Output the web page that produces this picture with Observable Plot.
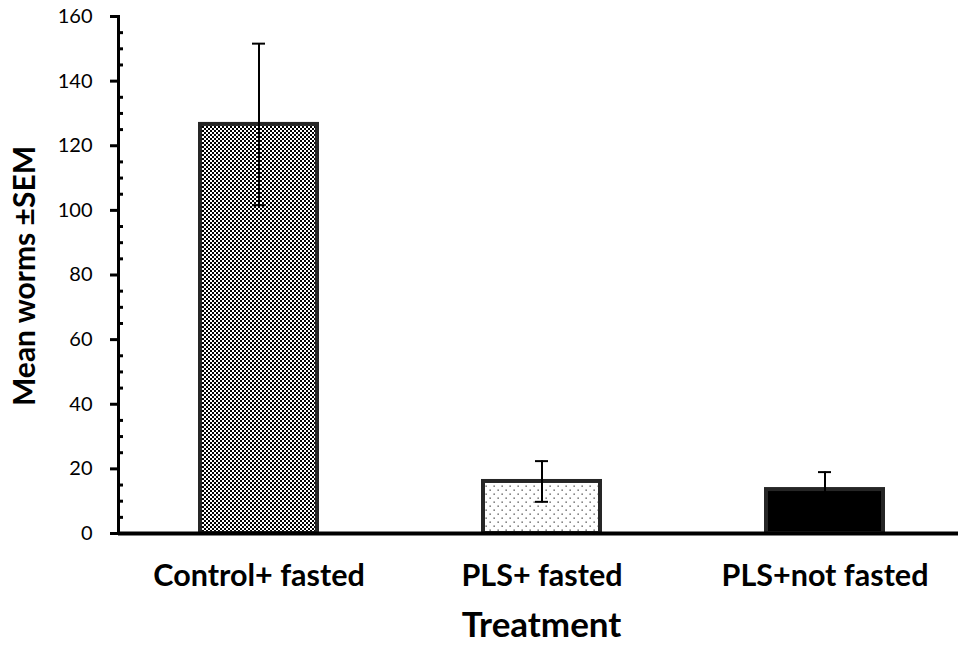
<!DOCTYPE html>
<html>
<head>
<meta charset="utf-8">
<script src="https://cdn.jsdelivr.net/npm/d3@7"></script>
<script src="https://cdn.jsdelivr.net/npm/@observablehq/plot@0.6"></script>
<style>
  html, body { margin: 0; padding: 0; background: #fff; }
  #chart svg { display: block; }
</style>
</head>
<body>
<div id="chart"></div>
<script>
const categories = ["Control+ fasted", "PLS+ fasted", "PLS+not fasted"];
const means = [126.6, 16.1, 13.6];
const sems = [25.0, 6.3, 5.4];
const fills = ["url(#checker)", "url(#dots)", "#000000"];
const majorTicks = [0, 20, 40, 60, 80, 100, 120, 140, 160];
const minorTicks = [5, 10, 15, 25, 30, 35, 45, 50, 55, 65, 70, 75, 85, 90, 95, 105, 110, 115, 125, 130, 135, 145, 150, 155];

const data = categories.map((c, i) => ({cat: c, mean: means[i], sem: sems[i], fill: fills[i]}));
const font = "Lato, 'Open Sans', sans-serif";

const svg = Plot.plot({
  width: 958,
  height: 645,
  marginLeft: 118,
  marginRight: 0,
  marginTop: 16,
  marginBottom: 112,
  style: {fontFamily: font, color: "#000", background: "#fff"},
  x: {domain: categories, range: [118, 964], paddingInner: 0.587, paddingOuter: 0.288},
  y: {domain: [0, 160], range: [533, 16]},
  marks: [
    Plot.barY(data, {x: "cat", y: "mean", fill: "fill", stroke: "#262626", strokeWidth: 4}),
    Plot.ruleX(data, {x: "cat", y1: d => d.mean - d.sem, y2: d => d.mean + d.sem, stroke: "#000", strokeWidth: 2}),
    Plot.tickY(data, {x: "cat", y: d => d.mean + d.sem, stroke: "#000", strokeWidth: 2, insetLeft: 52, insetRight: 52}),
    Plot.tickY(data, {x: "cat", y: d => d.mean - d.sem, stroke: "#000", strokeWidth: 2, insetLeft: 52, insetRight: 52}),
    Plot.axisY({ticks: minorTicks, tickSize: -5, text: null, strokeWidth: 3, label: null}),
    Plot.axisY({ticks: majorTicks, tickSize: 8, tickPadding: 18, strokeWidth: 3, fontSize: 20, label: null, tickFormat: d => String(d)}),
    Plot.frame({anchor: "left", strokeWidth: 3, stroke: "#000"}),
    Plot.ruleY([0], {stroke: "#000", strokeWidth: 4}),
    Plot.axisX({tickSize: 0, tickPadding: 31, fontSize: 30.5, fontWeight: "bold", label: null}),
    Plot.text(["Mean worms ±SEM"], {frameAnchor: "left", rotate: -90, dx: -93, dy: 1, textAnchor: "middle", lineAnchor: "middle", fontSize: 30, fontWeight: "bold", fill: "#000"}),
    Plot.text(["Treatment"], {frameAnchor: "bottom", dy: 92, dx: 3, textAnchor: "middle", lineAnchor: "middle", fontSize: 35, fontWeight: "bold", fill: "#000"})
  ]
});

svg.insertAdjacentHTML("afterbegin", `
<defs>
  <pattern id="checker" patternUnits="userSpaceOnUse" width="4" height="4">
    <rect width="4" height="4" fill="#ffffff"/>
    <rect x="0" y="0" width="2" height="2" fill="#000000"/>
    <rect x="2" y="2" width="2" height="2" fill="#000000"/>
  </pattern>
  <pattern id="dots" patternUnits="userSpaceOnUse" width="8" height="8">
    <rect width="8" height="8" fill="#ffffff"/>
    <rect x="1.5" y="1.5" width="1.3" height="1.3" fill="#444444"/>
    <rect x="5.5" y="5.5" width="1.3" height="1.3" fill="#444444"/>
  </pattern>
</defs>`);

document.getElementById("chart").appendChild(svg);
</script>
</body>
</html>
